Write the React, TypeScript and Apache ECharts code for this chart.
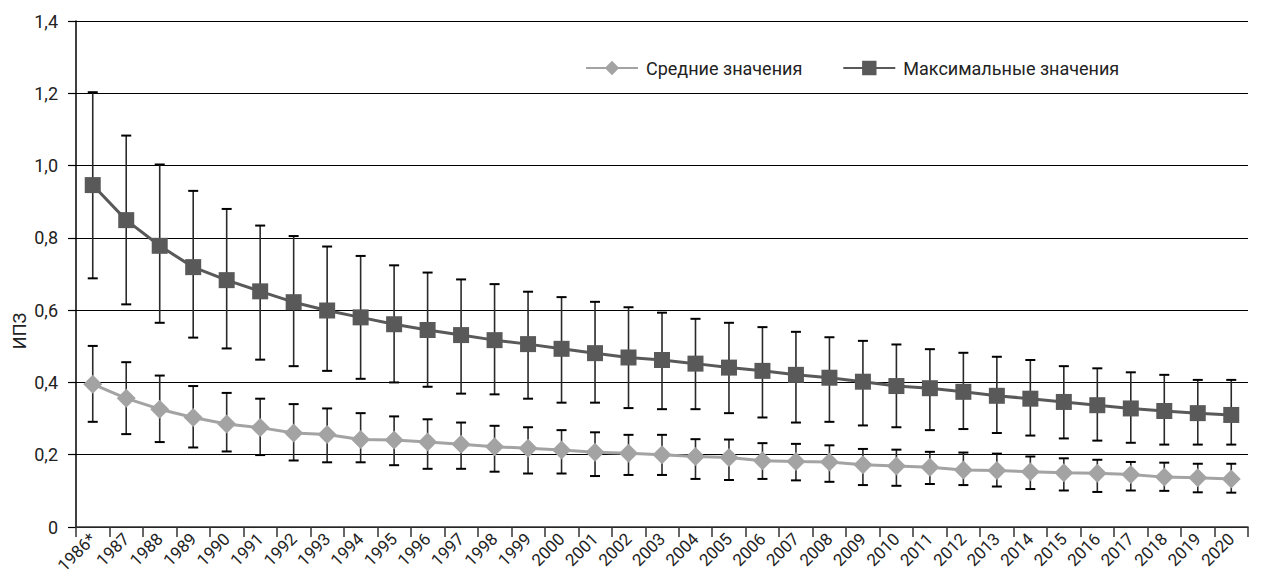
import React, { useEffect, useRef } from "react";
import * as echarts from "echarts";

const years = [
  "1986*", "1987", "1988", "1989", "1990", "1991", "1992", "1993", "1994", "1995",
  "1996", "1997", "1998", "1999", "2000", "2001", "2002", "2003", "2004", "2005",
  "2006", "2007", "2008", "2009", "2010", "2011", "2012", "2013", "2014", "2015",
  "2016", "2017", "2018", "2019", "2020",
];

const yTicks = [0, 0.2, 0.4, 0.6, 0.8, 1.0, 1.2, 1.4];

const meanValues = [
  0.395, 0.356, 0.326, 0.303, 0.285, 0.275, 0.26, 0.256, 0.242, 0.241,
  0.235, 0.229, 0.222, 0.218, 0.213, 0.207, 0.204, 0.2, 0.195, 0.192,
  0.183, 0.181, 0.18, 0.172, 0.169, 0.165, 0.158, 0.156, 0.153, 0.15,
  0.149, 0.145, 0.138, 0.136, 0.133,
];
const meanHigh = [
  0.501, 0.456, 0.419, 0.39, 0.371, 0.355, 0.34, 0.328, 0.315, 0.306,
  0.298, 0.289, 0.28, 0.276, 0.268, 0.262, 0.255, 0.255, 0.243, 0.242,
  0.232, 0.23, 0.226, 0.216, 0.214, 0.208, 0.206, 0.203, 0.195, 0.19,
  0.186, 0.18, 0.178, 0.175, 0.175,
];
const meanLow = [
  0.291, 0.257, 0.235, 0.22, 0.209, 0.199, 0.184, 0.179, 0.179, 0.171,
  0.161, 0.161, 0.153, 0.148, 0.148, 0.141, 0.144, 0.144, 0.133, 0.13,
  0.133, 0.129, 0.125, 0.116, 0.114, 0.119, 0.116, 0.112, 0.105, 0.101,
  0.097, 0.101, 0.1, 0.096, 0.095,
];

const maxValues = [
  0.946, 0.849, 0.778, 0.719, 0.683, 0.652, 0.622, 0.599, 0.58, 0.561,
  0.545, 0.531, 0.517, 0.506, 0.493, 0.481, 0.469, 0.462, 0.452, 0.441,
  0.432, 0.421, 0.413, 0.402, 0.39, 0.384, 0.374, 0.363, 0.355, 0.346,
  0.337, 0.328, 0.321, 0.315, 0.31,
];
const maxHigh = [
  1.203, 1.083, 1.003, 0.93, 0.88, 0.834, 0.805, 0.776, 0.75, 0.724,
  0.704, 0.685, 0.672, 0.651, 0.636, 0.623, 0.608, 0.593, 0.576, 0.565,
  0.553, 0.54, 0.525, 0.515, 0.505, 0.492, 0.482, 0.471, 0.462, 0.445,
  0.439, 0.428, 0.421, 0.407, 0.407,
];
const maxLow = [
  0.688, 0.616, 0.565, 0.524, 0.494, 0.463, 0.445, 0.432, 0.41, 0.4,
  0.388, 0.369, 0.367, 0.355, 0.344, 0.344, 0.329, 0.326, 0.326, 0.315,
  0.303, 0.289, 0.291, 0.281, 0.276, 0.268, 0.271, 0.26, 0.253, 0.245,
  0.239, 0.233, 0.228, 0.228, 0.228,
];

const seriesNames = ["Средние значения", "Максимальные значения"];
const yAxisName = "ИПЗ";

const FONT = "Roboto, 'Noto Sans', sans-serif";

function errorBarRender(params: any, api: any) {
  const x = api.value(0);
  const lo = api.coord([x, api.value(1)]);
  const hi = api.coord([x, api.value(2)]);
  const half = 5;
  return {
    type: "group",
    children: [
      {
        type: "line",
        shape: { x1: lo[0], y1: lo[1], x2: hi[0], y2: hi[1] },
        style: { stroke: "#2a2a2a", lineWidth: 1.6 },
      },
      {
        type: "line",
        shape: { x1: lo[0] - half, y1: lo[1], x2: lo[0] + half, y2: lo[1] },
        style: { stroke: "#000", lineWidth: 2 },
      },
      {
        type: "line",
        shape: { x1: hi[0] - half, y1: hi[1], x2: hi[0] + half, y2: hi[1] },
        style: { stroke: "#000", lineWidth: 2 },
      },
    ],
  };
}

export default function App() {
  const ref = useRef<HTMLDivElement>(null);

  useEffect(() => {
    if (!ref.current) return;
    const chart = echarts.init(ref.current, null, { renderer: "svg" });
    const option: any = {
      animation: false,
      backgroundColor: "#fff",
      textStyle: { fontFamily: FONT },
      grid: { left: 76, right: 13, top: 21, bottom: 51, containLabel: false },
      legend: {
        data: seriesNames,
        left: 580,
        top: 54,
        itemWidth: 52,
        itemHeight: 18,
        itemGap: 40,
        textStyle: { fontSize: 18, color: "#222", fontFamily: FONT, padding: [0, 0, 0, 3] },
      },
      graphic: [
        {
          type: "text",
          x: 19,
          y: 331,
          rotation: Math.PI / 2,
          style: {
            text: yAxisName,
            font: `18px ${FONT}`,
            fill: "#222",
            textAlign: "center",
            textVerticalAlign: "middle",
          },
        },
      ],
      xAxis: {
        type: "category",
        data: years,
        boundaryGap: true,
        axisLine: { show: true, lineStyle: { color: "#333", width: 1.5 } },
        axisTick: { show: true, length: 10, lineStyle: { color: "#333", width: 1.5 } },
        axisLabel: {
          interval: 0,
          rotate: 45,
          fontSize: 17,
          color: "#222",
          margin: 9,
          fontFamily: FONT,
        },
        splitLine: { show: false },
      },
      yAxis: {
        type: "value",
        min: yTicks[0],
        max: yTicks[yTicks.length - 1],
        interval: 0.2,
        axisLine: { show: true, lineStyle: { color: "#000", width: 1.5 } },
        axisTick: { show: true, length: 8, lineStyle: { color: "#000", width: 1.2 } },
        axisLabel: {
          fontSize: 18,
          color: "#222",
          margin: 18,
          fontFamily: FONT,
          formatter: (v: number) => (v === 0 ? "0" : v.toFixed(1).replace(".", ",")),
        },
        splitLine: { show: true, lineStyle: { color: "#000", width: 1.2 } },
      },
      series: [
        {
          type: "custom",
          name: "meanErr",
          renderItem: errorBarRender,
          data: years.map((_, i) => [i, meanLow[i], meanHigh[i]]),
          encode: { x: 0, y: [1, 2] },
          z: 1,
          silent: true,
        },
        {
          type: "custom",
          name: "maxErr",
          renderItem: errorBarRender,
          data: years.map((_, i) => [i, maxLow[i], maxHigh[i]]),
          encode: { x: 0, y: [1, 2] },
          z: 1,
          silent: true,
        },
        {
          type: "line",
          name: seriesNames[0],
          data: meanValues,
          symbol: "diamond",
          symbolSize: 19,
          showAllSymbol: true,
          lineStyle: { color: "#a3a3a3", width: 3 },
          itemStyle: { color: "#a3a3a3" },
          z: 3,
        },
        {
          type: "line",
          name: seriesNames[1],
          data: maxValues,
          symbol: "rect",
          symbolSize: 16,
          showAllSymbol: true,
          lineStyle: { color: "#595959", width: 3 },
          itemStyle: { color: "#595959" },
          z: 4,
        },
      ],
    };
    chart.setOption(option);
    return () => chart.dispose();
  }, []);

  return (
    <div
      ref={ref}
      style={{ position: "fixed", left: 0, top: 0, width: 1261, height: 578, background: "#fff" }}
    />
  );
}
